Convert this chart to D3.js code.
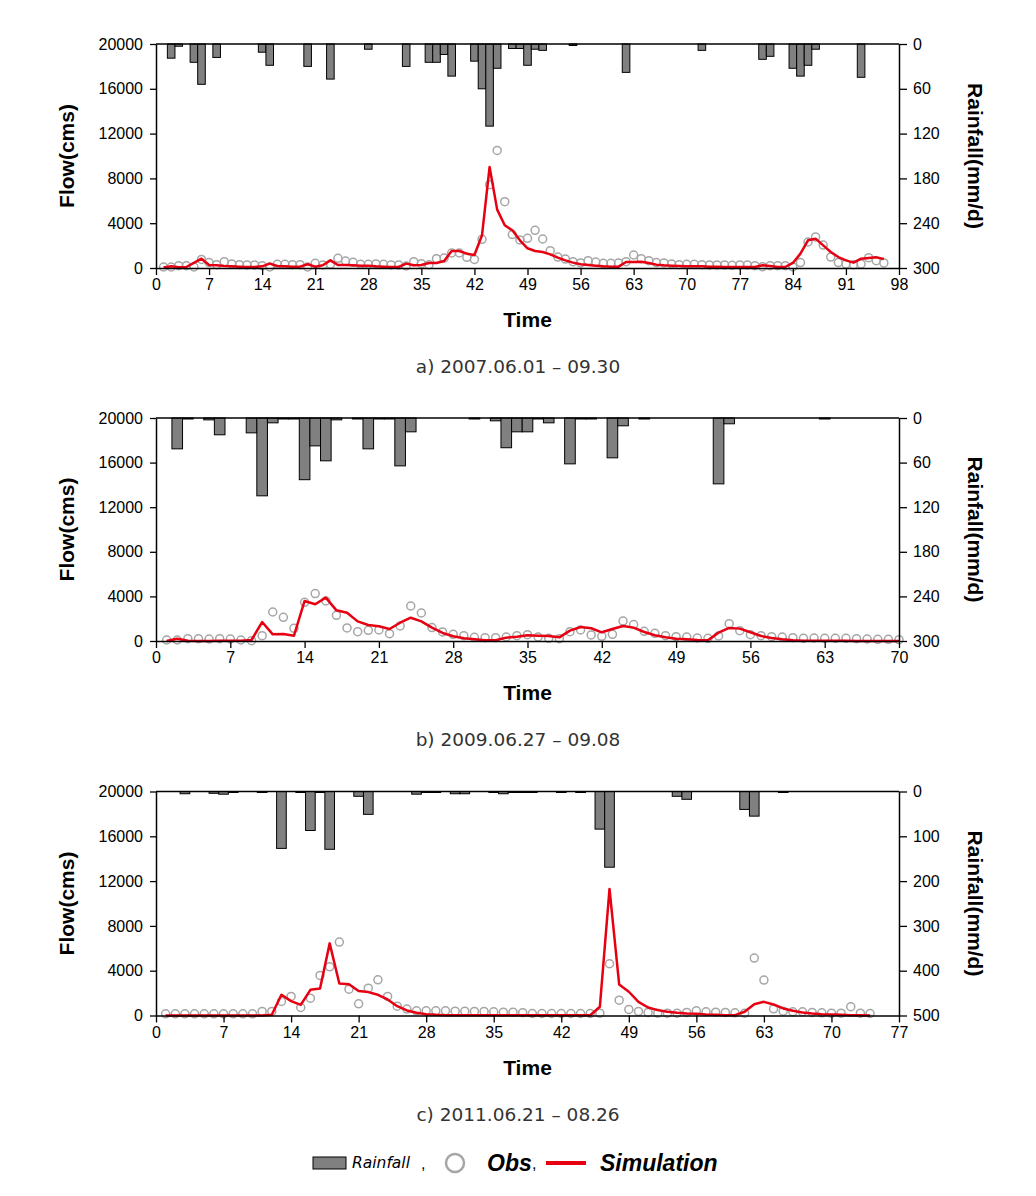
<!DOCTYPE html>
<html><head><meta charset="utf-8">
<script src="https://cdn.jsdelivr.net/npm/d3@7"></script>
<style>body{margin:0;background:#fff}svg{display:block}</style>
</head><body><svg id="chart" width="1036" height="1196"></svg>
<script>
// ---------- tick labels ----------
const flowTicks = [0, 4000, 8000, 12000, 16000, 20000];
const rainTicksAB = [0, 60, 120, 180, 240, 300];
const rainTicksC = [0, 100, 200, 300, 400, 500];
const timeTicksA = [0, 7, 14, 21, 28, 35, 42, 49, 56, 63, 70, 77, 84, 91, 98];
const timeTicksB = [0, 7, 14, 21, 28, 35, 42, 49, 56, 63, 70];
const timeTicksC = [0, 7, 14, 21, 28, 35, 42, 49, 56, 63, 70, 77];
const captions = ["a) 2007.06.01 \u2013 09.30", "b) 2009.06.27 \u2013 09.08", "c) 2011.06.21 \u2013 08.26"];

// ---------- panel a ----------
const rainDaysA = [2,3,5,6,8,14,15,20,23,28,33,36,37,38,39,42,43,44,45,47,48,49,50,51,55,62,72,80,81,84,85,86,87,93];
const rainA = [19,3,24.5,54,18,11,28.5,30,47,7,30,24.5,24.5,14,43,23,60,110,32.5,6,6,28.5,7,8.5,2,38,8.5,20.5,16.5,32.5,43,28.5,7,44.6];
const obsA = [90,90,210,210,90,770,480,300,565,360,300,270,270,210,90,330,330,300,300,90,
  420,270,330,860,625,505,330,330,360,330,270,270,180,565,390,300,830,890,1340,1340,
  950,770,2560,7440,10500,5920,2980,2500,2650,3360,2590,1550,980,800,565,450,655,535,420,420,
  450,565,1160,830,655,480,450,360,300,330,330,300,270,270,270,240,270,270,210,120,
  210,210,210,90,480,2320,2770,2050,980,480,360,300,360,920,655,450];
const simA = [50,150,60,90,450,830,270,240,180,150,120,90,90,150,390,180,150,120,120,330,
  120,240,680,270,270,240,210,210,150,120,90,90,390,240,270,450,450,625,1520,1520,
  1280,1160,2920,9020,5210,3810,3360,2470,1760,1520,1430,1220,920,680,480,330,270,210,150,120,
  120,535,535,565,450,300,240,210,180,150,150,150,120,120,90,90,90,90,90,240,
  180,90,90,450,1280,2470,2620,2020,1430,980,680,480,830,890,950,800];

// ---------- panel b ----------
const rainDaysB = [2,3,5,6,9,10,11,12,13,14,15,16,17,19,20,21,22,23,24,30,32,33,34,35,36,37,39,40,41,43,44,46,53,54,63];
const rainB = [41.5,1,2.5,22.6,20,104.7,6.5,1,1,83,37.5,57.6,2.5,1,41.5,1,1,64.4,18.6,1,3.8,40,18.6,18.6,1,6.5,61.7,1,1,53.6,10.5,1,88.6,7.8,1];
const obsB = [90,90,210,210,180,210,180,90,30,480,2600,2120,1140,3470,4250,3590,2300,1170,840,960,
  990,660,1350,3140,2510,1200,810,600,480,330,300,300,360,480,570,360,240,210,840,990,
  540,420,600,1790,1470,870,690,480,390,360,270,240,450,1550,930,570,480,390,360,300,
  240,270,240,240,240,210,180,150,150,120];
const simB = [0,210,30,0,0,30,30,30,90,1700,600,630,480,3590,3290,3890,2750,2540,1760,1440,
  1320,1080,1640,2090,1760,1200,720,420,240,150,60,60,300,390,510,480,450,330,930,1260,
  1140,780,1080,1350,1200,810,510,330,210,150,90,60,750,1170,1110,780,450,270,150,60,
  30,30,30,20,20,10,10,10,10,10];

// ---------- panel c ----------
const rainDaysC = [3,6,7,8,11,13,15,16,17,18,21,22,27,28,29,31,32,35,36,37,38,39,42,44,46,47,54,55,61,62,65];
const rainC = [5,4,6,2,2,127,2,87,2,129,10.7,51,6,2,2,5,5,2,5,2,2,2,2,2,84,169,10.7,17.4,40,55,2];
const obsC = [150,150,150,150,150,150,150,150,150,150,360,360,1250,1700,715,1550,3580,4350,6560,2350,
  1040,2440,3190,1700,830,570,420,420,420,420,390,390,360,360,330,300,300,250,180,180,
  180,180,180,180,180,210,4620,1370,540,360,270,210,210,210,270,420,330,300,270,240,
  210,5130,3160,600,390,330,330,270,240,210,210,780,210,180];
const simC = [10,10,10,10,10,10,10,10,10,10,10,60,1850,1280,950,2290,2410,6440,2860,2800,
  2180,2090,1850,1430,830,450,240,120,60,30,30,30,30,30,30,30,30,25,20,20,
  20,20,20,20,20,780,11300,2770,2120,1220,715,480,330,240,180,150,90,60,30,30,
  330,1010,1220,980,630,420,270,180,120,90,60,30,30,0];

const panels = [
  {top: 44, bottom: 268, xMax: 98, xTicks: timeTicksA, rainMax: 300, rainTicks: rainTicksAB,
   rainDays: rainDaysA, rain: rainA, obs: obsA, sim: simA, caption: captions[0]},
  {top: 418, bottom: 641, xMax: 70, xTicks: timeTicksB, rainMax: 300, rainTicks: rainTicksAB,
   rainDays: rainDaysB, rain: rainB, obs: obsB, sim: simB, caption: captions[1]},
  {top: 791.5, bottom: 1015.5, xMax: 77, xTicks: timeTicksC, rainMax: 500, rainTicks: rainTicksC,
   rainDays: rainDaysC, rain: rainC, obs: obsC, sim: simC, caption: captions[2]}
];

const svg = d3.select("#chart");
const L = 156, R = 899;
const tickFont = "'Liberation Sans', Arial, sans-serif";
const RED = "#e60012";

panels.forEach(p => {
  const g = svg.append("g");
  const x = d3.scaleLinear().domain([0, p.xMax]).range([L, R]);
  const y = d3.scaleLinear().domain([0, 20000]).range([p.bottom, p.top]);
  const yr = d3.scaleLinear().domain([0, p.rainMax]).range([p.top, p.bottom]);
  const bw = x(1) - x(0);

  // rainfall bars (hanging from top)
  g.append("g").selectAll("rect").data(p.rainDays.map((d, i) => ({d, v: p.rain[i]})))
    .join("rect")
    .attr("x", d => x(d.d) - bw / 2)
    .attr("y", p.top)
    .attr("width", bw)
    .attr("height", d => Math.max(1, yr(d.v) - p.top))
    .attr("fill", "#808080")
    .attr("stroke", "#000")
    .attr("stroke-width", 1);

  // observed circles
  g.append("g").selectAll("circle").data(p.obs.map((v, i) => ({d: i + 1, v})))
    .join("circle")
    .attr("cx", d => x(d.d))
    .attr("cy", d => y(d.v))
    .attr("r", 4)
    .attr("fill", "none")
    .attr("stroke", "#a6a6a6")
    .attr("stroke-width", 1.5);

  // simulation line
  const line = d3.line().x((v, i) => x(i + 1)).y(v => y(v));
  g.append("path").datum(p.sim)
    .attr("d", line)
    .attr("fill", "none")
    .attr("stroke", RED)
    .attr("stroke-width", 2.5)
    .attr("stroke-linejoin", "round");

  // axes
  const styleAxis = (sel) => {
    sel.select(".domain").attr("stroke", "#000").attr("stroke-width", 1.5);
    sel.selectAll(".tick line").attr("stroke", "#000").attr("stroke-width", 1.3);
    sel.selectAll("text").attr("font-family", tickFont).attr("font-size", 16).attr("fill", "#000");
  };
  g.append("g").attr("transform", `translate(${L},0)`)
    .call(d3.axisLeft(y).tickValues(flowTicks).tickFormat(d3.format("d")).tickSize(6).tickPadding(7).tickSizeOuter(0))
    .call(styleAxis);
  g.append("g").attr("transform", `translate(0,${p.bottom})`)
    .call(d3.axisBottom(x).tickValues(p.xTicks).tickFormat(d3.format("d")).tickSize(7).tickPadding(4).tickSizeOuter(0))
    .call(styleAxis);
  g.append("g").attr("transform", `translate(${R},0)`)
    .call(d3.axisRight(yr).tickValues(p.rainTicks).tickFormat(d3.format("d")).tickSize(8).tickPadding(6).tickSizeOuter(0))
    .call(styleAxis);
  g.append("line").attr("x1", L).attr("x2", R).attr("y1", p.top).attr("y2", p.top)
    .attr("stroke", "#000").attr("stroke-width", 1.5);

  const mid = (p.top + p.bottom) / 2;
  g.append("text").attr("transform", `translate(66,${mid}) rotate(-90)`)
    .attr("text-anchor", "middle").attr("dominant-baseline", "central")
    .attr("font-family", tickFont).attr("font-weight", "bold").attr("font-size", 21)
    .text("Flow(cms)");
  g.append("text").attr("transform", `translate(975,${mid}) rotate(90)`)
    .attr("text-anchor", "middle").attr("dominant-baseline", "central")
    .attr("font-family", tickFont).attr("font-weight", "bold").attr("font-size", 21)
    .text("Rainfall(mm/d)");
  g.append("text").attr("x", (L + R) / 2).attr("y", p.bottom + 59)
    .attr("text-anchor", "middle")
    .attr("font-family", tickFont).attr("font-weight", "bold").attr("font-size", 21)
    .text("Time");
  g.append("text").attr("x", 518).attr("y", p.bottom + 105)
    .attr("text-anchor", "middle")
    .attr("font-family", "'DejaVu Sans', sans-serif").attr("font-size", 18.5)
    .attr("fill", "#333")
    .text(p.caption);
});

// legend
const lg = svg.append("g");
const ly = 1163;
lg.append("rect").attr("x", 313).attr("y", ly - 6).attr("width", 33).attr("height", 12)
  .attr("fill", "#808080").attr("stroke", "#000").attr("stroke-width", 1);
lg.append("text").attr("x", 352).attr("y", ly + 5)
  .attr("font-family", "'DejaVu Sans', sans-serif").attr("font-style", "italic").attr("font-size", 15.5)
  .text("Rainfall");
lg.append("text").attr("x", 421).attr("y", ly + 6)
  .attr("font-family", tickFont).attr("font-size", 16).text(",");
lg.append("circle").attr("cx", 455).attr("cy", ly).attr("r", 9)
  .attr("fill", "none").attr("stroke", "#a6a6a6").attr("stroke-width", 2.5);
lg.append("text").attr("x", 487).attr("y", ly + 8)
  .attr("font-family", tickFont).attr("font-style", "italic").attr("font-weight", "bold").attr("font-size", 23).text("Obs");
lg.append("text").attr("x", 532).attr("y", ly + 6)
  .attr("font-family", tickFont).attr("font-size", 16).text(",");
lg.append("line").attr("x1", 546).attr("x2", 586).attr("y1", ly).attr("y2", ly)
  .attr("stroke", RED).attr("stroke-width", 4);
lg.append("text").attr("x", 600).attr("y", ly + 8)
  .attr("font-family", tickFont).attr("font-style", "italic").attr("font-weight", "bold").attr("font-size", 23).text("Simulation");
</script>
</body></html>
